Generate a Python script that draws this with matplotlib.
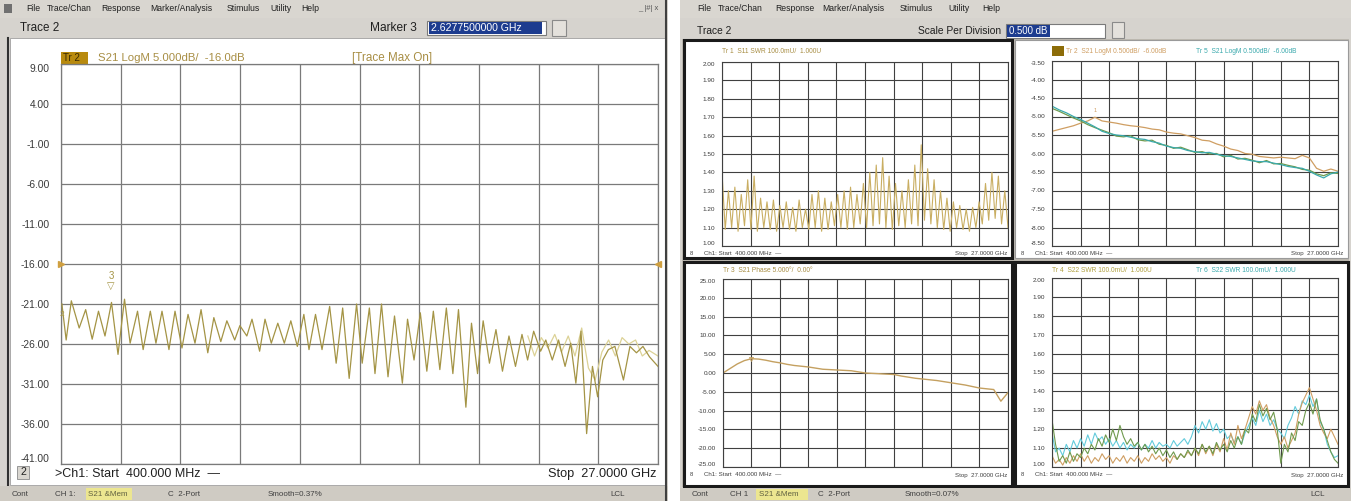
import numpy as np
import matplotlib
matplotlib.use('Agg')
import matplotlib.pyplot as plt
from matplotlib.patches import Rectangle

plt.rcParams['font.family'] = ['Liberation Sans', 'DejaVu Sans']

W, H = 1351, 501

# ---- sweep ----
f_start, f_stop = 0.4, 27.0  # GHz

# ---- left screen: S21 LogM, peaks/troughs ----
s21_freq = [0.44, 0.63, 0.86, 1.21, 1.50, 1.79, 2.07, 2.36, 2.65, 2.94, 3.23, 3.48, 3.81, 4.06,
            4.38, 4.63, 4.90, 5.21, 5.48, 5.79, 6.06, 6.37, 6.64, 6.94, 7.21, 7.52, 7.79, 8.14,
            8.37, 8.68, 8.91, 9.25, 9.49, 9.77, 10.06, 10.35, 10.64, 10.93, 11.22, 11.45, 11.74,
            12.03, 12.37, 12.66, 12.95, 13.24, 13.57, 13.82, 14.14, 14.39, 14.68, 14.97, 15.26,
            15.61, 15.84, 16.13, 16.41, 16.70, 16.99, 17.28, 17.57, 17.86, 18.11, 18.44, 18.69,
            18.96, 19.21, 19.49, 19.78, 20.07, 20.36, 20.65, 20.94, 21.19, 21.46, 21.77, 22.00,
            22.29, 22.57, 22.86, 23.11, 23.34, 23.57, 23.82, 24.08, 24.31, 24.54, 24.79, 25.08,
            25.46, 25.75, 26.04, 26.33, 26.62, 27.00]
s21_db = [-21.0, -25.5, -20.6, -24.0, -21.7, -25.4, -21.9, -25.0, -20.8, -27.3, -20.4, -25.9,
          -21.9, -26.7, -21.9, -25.9, -21.9, -26.7, -21.9, -26.5, -22.3, -25.9, -21.7, -27.1,
          -22.7, -25.7, -23.1, -25.5, -23.7, -25.0, -22.9, -26.9, -22.9, -25.9, -23.4, -25.9,
          -23.1, -26.3, -22.3, -26.7, -22.3, -26.7, -21.3, -28.4, -21.5, -30.3, -21.0, -28.4,
          -21.5, -29.7, -21.0, -30.1, -22.5, -30.9, -22.9, -28.0, -22.1, -29.4, -21.9, -29.2,
          -21.5, -29.7, -21.7, -33.9, -23.4, -29.7, -23.1, -28.4, -24.2, -29.4, -25.0, -28.8,
          -24.8, -28.0, -24.4, -26.9, -25.5, -28.0, -25.5, -28.8, -25.9, -30.9, -24.4, -37.2,
          -28.8, -32.6, -28.0, -26.7, -26.3, -30.5, -26.3, -27.1, -26.3, -27.6, -28.8]
# max-hold trace where it separates from the live trace
hold_freq = [21.2, 21.5, 21.8, 22.1, 22.4, 22.7, 23.0, 23.3, 23.6, 23.9, 24.2, 24.5, 24.8,
             25.1, 25.4, 25.7, 26.0, 26.3, 26.6, 27.0]
hold_db = [-25.0, -27.5, -25.2, -26.5, -24.8, -27.0, -25.0, -27.5, -24.0, -29.0, -30.5, -27.0,
           -25.5, -27.5, -25.2, -26.0, -25.5, -27.5, -26.8, -27.5]
main_levels = ['9.00', '4.00', '-1.00', '-6.00', '-11.00', '-16.00', '-21.00', '-26.00',
               '-31.00', '-36.00', '-41.00']
mk2 = (0.5, -20.59)
mk3 = (2.628, -20.29)

# ---- right screen, trace 1: S11 SWR (peak, trough pairs) ----
swr11_peaks = [1.40, 1.30, 1.32, 1.28, 1.36, 1.38, 1.26, 1.24, 1.25, 1.22, 1.24, 1.21, 1.25,
               1.20, 1.28, 1.30, 1.26, 1.24, 1.28, 1.30, 1.32, 1.28, 1.34, 1.40, 1.44, 1.48,
               1.38, 1.34, 1.30, 1.36, 1.44, 1.55, 1.42, 1.36, 1.30, 1.26, 1.24, 1.22, 1.20,
               1.21, 1.24, 1.34, 1.40, 1.38, 1.30]
swr11_troughs = [1.09, 1.10, 1.08, 1.11, 1.09, 1.08, 1.10, 1.09, 1.08, 1.10, 1.09, 1.08, 1.10,
                 1.09, 1.10, 1.08, 1.09, 1.11, 1.10, 1.09, 1.10, 1.12, 1.10, 1.11, 1.12, 1.10,
                 1.09, 1.11, 1.10, 1.12, 1.11, 1.14, 1.12, 1.10, 1.09, 1.08, 1.10, 1.09, 1.08,
                 1.10, 1.12, 1.14, 1.15, 1.12, 1.10]
swr_levels = ['2.00', '1.90', '1.80', '1.70', '1.60', '1.50', '1.40', '1.30', '1.20', '1.10',
              '1.00']

# ---- trace 2 / 5: S21 LogM 0.5 dB/div ----
s21a_db = [-5.40, -5.35, -5.30, -5.25, -5.18, -5.12, -5.02, -5.12, -5.15, -5.18, -5.22, -5.25,
           -5.27, -5.30, -5.34, -5.36, -5.42, -5.45, -5.47, -5.52, -5.57, -5.64, -5.66, -5.74,
           -5.80, -5.88, -5.92, -6.00, -6.02, -6.08, -6.10, -6.12, -6.10, -6.12, -6.14, -6.05,
           -6.12, -6.40, -6.48, -6.42, -6.48]
s21b_db = [-4.72, -4.82, -4.90, -5.00, -5.08, -5.18, -5.28, -5.40, -5.46, -5.50, -5.52, -5.56,
           -5.60, -5.62, -5.68, -5.72, -5.80, -5.84, -5.86, -5.92, -5.95, -5.98, -5.97, -6.02,
           -6.06, -6.08, -6.12, -6.16, -6.20, -6.22, -6.22, -6.26, -6.30, -6.35, -6.38, -6.40,
           -6.48, -6.58, -6.66, -6.55, -6.50]
s21c_db = [-4.78, -4.86, -4.95, -5.04, -5.12, -5.22, -5.30, -5.37, -5.44, -5.53, -5.55, -5.52,
           -5.63, -5.66, -5.64, -5.75, -5.78, -5.86, -5.83, -5.90, -5.97, -5.95, -6.01, -6.00,
           -6.09, -6.05, -6.15, -6.13, -6.18, -6.25, -6.19, -6.28, -6.27, -6.32, -6.36, -6.43,
           -6.45, -6.55, -6.60, -6.52, -6.54]
db05_levels = ['-3.50', '-4.00', '-4.50', '-5.00', '-5.50', '-6.00', '-6.50', '-7.00', '-7.50',
               '-8.00', '-8.50']

# ---- trace 3: S21 5 dB/div ----
s21d_db = [0.0, 1.2, 2.4, 3.3, 3.8, 3.7, 3.4, 3.0, 2.7, 2.3, 2.0, 1.8, 1.6, 1.3, 1.0, 0.9,
           0.8, 0.7, 0.6, 0.3, 0.0, -0.1, -0.2, -0.3, -0.4, -0.8, -1.1, -1.4, -1.6, -1.8,
           -2.0, -2.3, -2.6, -2.9, -3.2, -3.6, -4.0, -4.2, -4.4, -7.5, -5.2]
db5_levels = ['25.00', '20.00', '15.00', '10.00', '5.00', '0.00', '-5.00', '-10.00', '-15.00',
              '-20.00', '-25.00']

# ---- trace 4 / 6: S22 SWR ----
swr22_green = [1.25, 1.12, 1.03, 1.06, 1.02, 1.08, 1.03, 1.07, 1.05, 1.10, 1.07, 1.12, 1.09,
               1.15, 1.11, 1.17, 1.13, 1.20, 1.14, 1.22, 1.16, 1.12, 1.15, 1.11, 1.13, 1.09,
               1.12, 1.08, 1.11, 1.07, 1.10, 1.06, 1.09, 1.05, 1.08, 1.04, 1.07, 1.05, 1.09,
               1.06, 1.10, 1.07, 1.12, 1.08, 1.11, 1.07, 1.13, 1.09, 1.12, 1.08, 1.14, 1.10,
               1.16, 1.12, 1.20, 1.18, 1.28, 1.24, 1.33, 1.27, 1.31, 1.25, 1.29, 1.20, 1.02,
               1.12, 1.08, 1.18, 1.14, 1.24, 1.22, 1.30, 1.34, 1.28, 1.36, 1.25, 1.20, 1.14,
               1.08, 1.04, 1.02]
swr22_cyan = [1.18, 1.08, 1.10, 1.06, 1.12, 1.08, 1.14, 1.10, 1.15, 1.11, 1.17, 1.12, 1.18,
              1.14, 1.16, 1.12, 1.15, 1.11, 1.14, 1.10, 1.13, 1.09, 1.12, 1.10, 1.13, 1.09,
              1.12, 1.10, 1.14, 1.10, 1.13, 1.11, 1.12, 1.10, 1.14, 1.11, 1.13, 1.15, 1.12,
              1.16, 1.22, 1.18, 1.24, 1.20, 1.25, 1.19, 1.23, 1.18, 1.20, 1.15, 1.17, 1.13,
              1.16, 1.12, 1.18, 1.22, 1.26, 1.22, 1.30, 1.24, 1.28, 1.22, 1.25, 1.20, 1.18,
              1.15, 1.22, 1.26, 1.32, 1.28, 1.35, 1.33, 1.38, 1.32, 1.36, 1.24, 1.20, 1.12,
              1.08, 1.05, 1.06]
swr22_tan = [1.06, 1.02, 1.04, 1.01, 1.05, 1.02, 1.06, 1.03, 1.07, 1.03, 1.06, 1.02, 1.05,
             1.03, 1.07, 1.04, 1.06, 1.02, 1.05, 1.03, 1.06, 1.02, 1.05, 1.03, 1.06, 1.02,
             1.05, 1.03, 1.07, 1.04, 1.06, 1.03, 1.05, 1.02, 1.06, 1.04, 1.07, 1.05, 1.08,
             1.06, 1.10, 1.06, 1.12, 1.07, 1.11, 1.06, 1.12, 1.08, 1.15, 1.09, 1.18, 1.12,
             1.22, 1.15, 1.20, 1.26, 1.32, 1.28, 1.35, 1.30, 1.33, 1.26, 1.22, 1.16, 1.12,
             1.16, 1.10, 1.14, 1.18, 1.28, 1.34, 1.38, 1.42, 1.36, 1.30, 1.22, 1.18, 1.15,
             1.20, 1.16, 1.12]

# ---- colours ----
GUI = '#d6d3ce'
TRACE = '#a49445'
HOLD = '#dcd296'
LABEL = '#a88e44'
TEAL = '#3aa9ad'
GREEN = '#6f9a4e'
TAN = '#cf9e62'
CYAN = '#63cbdc'

fig = plt.figure(figsize=(W / 100, H / 100), dpi=100)
bg = fig.add_axes([0, 0, 1, 1])
bg.set_xlim(0, W)
bg.set_ylim(H, 0)
bg.axis('off')


def box(x0, y0, x1, y1, fc, ec='none', lw=0, z=1):
    bg.add_patch(Rectangle((x0, y0), x1 - x0, y1 - y0, fc=fc, ec=ec, lw=lw, zorder=z))


def txt(x, y, s, size=6.5, color='#202020', ha='left', **kw):
    bg.text(x, y, s, fontsize=size, color=color, ha=ha, va='center', **kw)


def px_box(x0, y0, x1, y1):
    return [x0 / W, 1 - y1 / H, (x1 - x0) / W, (y1 - y0) / H]


def vna_axes(x0, y0, x1, y1, ylo, yhi, labels, fs, pad, gc, glw):
    ax = fig.add_axes(px_box(x0, y0, x1, y1))
    ax.set_xlim(f_start, f_stop)
    ax.set_ylim(ylo, yhi)
    ax.set_xticks(np.linspace(f_start, f_stop, 11))
    ax.set_yticks(np.linspace(ylo, yhi, 11))
    ax.set_yticklabels(labels[::-1])
    ax.tick_params(length=0, labelbottom=False, labelsize=fs, pad=pad, labelcolor='#3a3a3a')
    tl = ax.get_yticklabels()
    tl[-1].set_va('top')
    tl[0].set_va('bottom')
    ax.grid(True, color=gc, lw=glw)
    for s in ax.spines.values():
        s.set_color(gc)
        s.set_linewidth(glw)
    ax.set_facecolor('white')
    return ax


# ================= left screen chrome =================
box(0, 0, 668, 501, GUI)
box(0, 0, 668, 18, '#d9d6d0')
for x, s in [(26, 'File'), (47, 'Trace/Chan'), (101, 'Response'), (150, 'Marker/Analysis'),
             (227, 'Stimulus'), (270, 'Utility'), (301, 'Help')]:
    txt(x, 8, s, 6.2)
box(4, 4, 12, 13, '#707070')
txt(648, 8, '_ |#| x', 5.5, '#555555', ha='center')
txt(20, 28, 'Trace 2', 8.4)
txt(370, 28, 'Marker 3', 8.6)
box(427, 21, 546, 35, 'white', '#7a7a7a', 0.8, 2)
box(429, 22, 542, 34, '#1d3c8f', z=3)
txt(431, 28, '2.6277500000 GHz', 7.6, 'white', zorder=4)
box(552, 20, 566, 36, '#e4e1dc', '#8a8a8a', 0.8, 2)
bg.plot([8, 8], [38, 486], color='#303030', lw=1.5, zorder=2)
box(10, 38, 665, 485, 'white', '#a0a0a0', 0.6, 2)
box(61, 52, 88, 64, '#b88a0e', z=3)
txt(63, 58, 'Tr 2', 7.0, '#3a2a00', zorder=4)
txt(98, 58, 'S21 LogM 5.000dB/  -16.0dB', 8.2, LABEL, zorder=4)
txt(352, 58, '[Trace Max On]', 8.4, LABEL, zorder=4)
txt(477, 82, '2', 7.6, LABEL, ha='right', zorder=4)
txt(545, 82, '500.000 MHz', 7.6, LABEL, ha='right', zorder=4)
txt(640, 82, '-20.59 dB', 7.6, LABEL, ha='right', zorder=4)
txt(477, 98, '> 3', 7.6, LABEL, ha='right', zorder=4)
txt(545, 98, '2.628 GHz', 7.6, LABEL, ha='right', zorder=4)
txt(640, 98, '-20.29 dB', 7.6, LABEL, ha='right', zorder=4)
box(17, 466, 29, 479, '#d9d6d0', '#8a8a8a', 0.6, 3)
txt(23, 472, '2', 7.6, ha='center', zorder=4)
txt(55, 474, '>Ch1: Start  400.000 MHz  \u2014', 9.0, zorder=4)
txt(657, 474, 'Stop  27.0000 GHz', 9.2, ha='right', zorder=4)
box(0, 486, 668, 501, '#cfcbc3', z=2)
txt(12, 494, 'Cont', 5.8, '#404040', zorder=4)
txt(55, 494, 'CH 1:', 5.8, '#404040', zorder=4)
box(86, 488, 132, 500, '#ece690', z=3)
txt(88, 494, 'S21 &Mem', 5.8, '#606040', zorder=4)
txt(168, 494, 'C  2-Port', 5.8, '#404040', zorder=4)
txt(268, 494, 'Smooth=0.37%', 5.8, '#404040', zorder=4)
txt(610, 494, 'LCL', 5.8, '#404040', zorder=4)
bg.plot([666, 666], [0, 501], color='#404040', lw=1.5, zorder=5)

ax = vna_axes(61, 64, 658, 464, -41, 9, main_levels, 7.4, 8, '#7a7a7a', 0.9)
ax.plot(hold_freq, hold_db, color=HOLD, lw=0.9, zorder=2)
ax.plot(s21_freq, s21_db, color=TRACE, lw=0.9, zorder=3)
ax.plot([f_start], [-16], marker='>', color='#d0a040', ms=4, clip_on=False, zorder=4)
ax.plot([f_stop], [-16], marker='<', color='#d0a040', ms=4, clip_on=False, zorder=4)
ax.annotate('\u25bd', mk3, xytext=(0, 9), textcoords='offset points', ha='center',
            va='center', fontsize=7, color=TRACE)
ax.annotate('3', mk3, xytext=(0, 16), textcoords='offset points', ha='center',
            va='center', fontsize=7, color=TRACE)
ax.annotate('2', mk2, xytext=(-1, -10), textcoords='offset points', ha='center',
            va='center', fontsize=6, color=TRACE)

# ================= right screen chrome =================
box(680, 0, W, 501, GUI)
box(680, 0, W, 18, '#d9d6d0')
for x, s in [(697, 'File'), (718, 'Trace/Chan'), (775, 'Response'), (822, 'Marker/Analysis'),
             (900, 'Stimulus'), (948, 'Utility'), (982, 'Help')]:
    txt(x, 8, s, 6.2)
txt(697, 31, 'Trace 2', 7.4)
txt(918, 31, 'Scale Per Division', 7.4)
box(1006, 24, 1105, 38, 'white', '#7a7a7a', 0.8, 2)
box(1007, 25, 1050, 37, '#1d3c8f', z=3)
txt(1009, 31, '0.500 dB', 6.9, 'white', zorder=4)
box(1112, 22, 1124, 38, '#e4e1dc', '#8a8a8a', 0.8, 2)
box(682, 39, W - 2, 487, '#bdb9b1', z=1)

panels = [(684, 40, 1012, 258, 2.2), (1015, 40, 1348, 258, 0.8),
          (684, 262, 1012, 486, 2.2), (1015, 262, 1348, 486, 2.2)]
for x0, y0, x1, y1, lw in panels:
    box(x0, y0, x1, y1, 'white', '#1a1a1a' if lw > 1 else '#9a9a9a', lw, 2)

small_hdr = [(722, 51, 'Tr 1  S11 SWR 100.0mU/  1.000U', LABEL),
             (1066, 51, 'Tr 2  S21 LogM 0.500dB/  -6.00dB', TAN),
             (1196, 51, 'Tr 5  S21 LogM 0.500dB/  -6.00dB', TEAL),
             (723, 270, 'Tr 3  S21 Phase 5.000\u00b0/  0.00\u00b0', LABEL),
             (1052, 270, 'Tr 4  S22 SWR 100.0mU/  1.000U', '#b0a040'),
             (1196, 270, 'Tr 6  S22 SWR 100.0mU/  1.000U', TEAL)]
box(1052, 46, 1064, 56, '#8c6c08', z=3)
for x, y, s, c in small_hdr:
    txt(x, y, s, 4.8, c, zorder=4)

for dy, r in enumerate([('1', '500.000 MHz', '1.40'), ('2', '18.390 GHz', '1.55'),
                        ('3', '22.090 GHz', '1.38')]):
    y = 66 + dy * 7
    txt(908, y, r[0], 4.4, LABEL, ha='right', zorder=4)
    txt(955, y, r[1], 4.4, LABEL, ha='right', zorder=4)
    txt(1003, y, r[2], 4.4, LABEL, ha='right', zorder=4)
for dy, r in enumerate([('1', '2.628 GHz', '-5.02 dB'), ('2', '18.390 GHz', '-6.10 dB'),
                        ('3', '25.800 GHz', '-6.48 dB')]):
    y = 66 + dy * 7
    txt(1226, y, r[0], 4.4, TAN, ha='right', zorder=4)
    txt(1285, y, r[1], 4.4, TAN, ha='right', zorder=4)
    txt(1330, y, r[2], 4.4, TAN, ha='right', zorder=4)
for dy, r in enumerate([('1', '26.930 GHz', '3.82\u00b0'), ('2', '18.390 GHz', '-0.67\u00b0'),
                        ('3', '2.750 GHz', '4.07\u00b0')]):
    y = 288 + dy * 7
    txt(908, y, r[0], 4.4, LABEL, ha='right', zorder=4)
    txt(955, y, r[1], 4.4, LABEL, ha='right', zorder=4)
    txt(1003, y, r[2], 4.4, LABEL, ha='right', zorder=4)
txt(1236, 284, '> 1', 4.4, '#b0a040', ha='right', zorder=4)
txt(1285, 284, '26.930 GHz', 4.4, TAN, ha='right', zorder=4)
txt(1334, 284, '1.17', 4.4, '#b0a040', ha='right', zorder=4)

for x0, y0, x1, y1 in [(684, 249, 1012, 257), (1015, 249, 1348, 257),
                       (684, 470, 1012, 480), (1015, 470, 1348, 480)]:
    ym = (y0 + y1) / 2
    txt(x0 + 6, ym, '8', 4.2, '#404040', zorder=4)
    txt(x0 + 20, ym, 'Ch1: Start  400.000 MHz  \u2014', 4.4, '#404040', zorder=4)
    txt(x1 - 5, ym, 'Stop  27.0000 GHz', 4.4, '#404040', ha='right', zorder=4)

box(680, 488, W, 501, '#cfcbc3', z=2)
txt(692, 495, 'Cont', 5.8, '#404040', zorder=4)
txt(730, 495, 'CH 1', 5.8, '#404040', zorder=4)
box(756, 489, 808, 500, '#ece690', z=3)
txt(759, 495, 'S21 &Mem', 5.8, '#606040', zorder=4)
txt(818, 495, 'C  2-Port', 5.8, '#404040', zorder=4)
txt(905, 495, 'Smooth=0.07%', 5.8, '#404040', zorder=4)
txt(1310, 495, 'LCL', 5.8, '#404040', zorder=4)

# ---- the four small windows ----
a1 = vna_axes(722, 62, 1008, 246, 1.0, 2.0, swr_levels, 4.6, 5, '#404040', 0.8)
swr11 = np.column_stack([swr11_peaks, swr11_troughs]).ravel()
a1.plot(np.linspace(f_start, f_stop, len(swr11)), swr11, color='#c9ae62', lw=0.8)

a2 = vna_axes(1052, 61, 1338, 246, -8.5, -3.5, db05_levels, 4.6, 5, '#404040', 0.8)
fr = np.linspace(f_start, f_stop, len(s21a_db))
a2.plot(fr, s21a_db, color=TAN, lw=0.9)
a2.plot(fr, s21c_db, color=GREEN, lw=0.9)
a2.plot(fr, s21b_db, color=TEAL, lw=0.9)
a2.annotate('1', (fr[6], s21a_db[6]), xytext=(0, 4), textcoords='offset points',
            ha='center', fontsize=4, color=TAN)

a3 = vna_axes(723, 279, 1008, 467, -25, 25, db5_levels, 4.6, 5, '#404040', 0.8)
fr = np.linspace(f_start, f_stop, len(s21d_db))
a3.plot(fr, s21d_db, color='#c4a060', lw=1.0)
a3.plot([fr[4]], [s21d_db[4]], marker='v', ms=3, mfc='none', mec='#c4a060', mew=0.6)

a4 = vna_axes(1052, 278, 1338, 467, 1.0, 2.0, swr_levels, 4.6, 5, '#404040', 0.8)
fr = np.linspace(f_start, f_stop, len(swr22_green))
a4.plot(fr, swr22_cyan, color=CYAN, lw=0.8)
a4.plot(fr, swr22_tan, color=TAN, lw=0.8)
a4.plot(fr, swr22_green, color=GREEN, lw=0.8)

fig.savefig('out.png', dpi=100)
